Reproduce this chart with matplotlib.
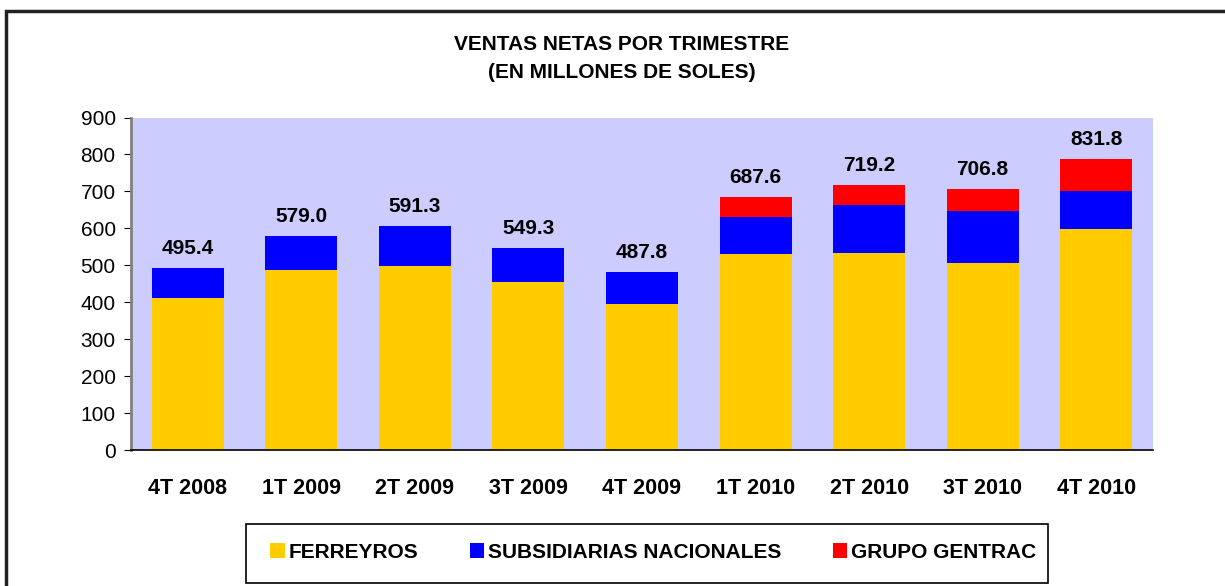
import numpy as np
import matplotlib
matplotlib.use("Agg")
import matplotlib.pyplot as plt
from matplotlib.patches import Rectangle

plt.rcParams['font.family'] = ['Liberation Sans', 'DejaVu Sans']

# quarters and stacked sales (millions of soles)
quarters = ['4T 2008', '1T 2009', '2T 2009', '3T 2009', '4T 2009',
            '1T 2010', '2T 2010', '3T 2010', '4T 2010']
ferreyros = [411, 487, 498, 455, 395, 531, 533, 506, 598]
subsidiarias = [82, 92, 108, 92, 87, 100, 130, 141, 103]
gentrac = [0, 0, 0, 0, 0, 55, 54, 60, 87]
total_labels = ['495.4', '579.0', '591.3', '549.3', '487.8',
                '687.6', '719.2', '706.8', '831.8']

c_fer = '#FFCC00'
c_sub = '#0000FF'
c_gen = '#FF0000'

fig = plt.figure(figsize=(12.25, 5.86), dpi=100)
ax = fig.add_axes([131 / 1225, 1 - 450 / 586, 1022 / 1225, 332.5 / 586])
ax.set_facecolor('#CCCCFF')

x = np.arange(len(quarters))
w = 0.634
fer = np.array(ferreyros)
sub = np.array(subsidiarias)
gen = np.array(gentrac)

ax.bar(x, fer, w, color=c_fer, label='FERREYROS')
ax.bar(x, sub, w, bottom=fer, color=c_sub, label='SUBSIDIARIAS NACIONALES')
ax.bar(x, gen, w, bottom=fer + sub, color=c_gen, label='GRUPO GENTRAC')

tops = fer + sub + gen
for xi, top, lab in zip(x, tops, total_labels):
    ax.annotate(lab, (xi, top), xytext=(0, 7), textcoords='offset points',
                ha='center', va='bottom', fontsize=15, fontweight='bold')

ax.set_xlim(-0.5, len(quarters) - 0.5)
ax.set_ylim(0, 900)
ax.set_yticks(np.arange(0, 901, 100))
ax.set_xticks(x)
ax.set_xticklabels(quarters, fontsize=15.5, fontweight='bold')
ax.tick_params(axis='x', length=0, pad=20)
ax.tick_params(axis='y', labelsize=15, length=5, direction='out', pad=6)

for s in ['top', 'right']:
    ax.spines[s].set_visible(False)
ax.spines['left'].set_color('#808080')
ax.spines['left'].set_linewidth(2)
ax.spines['bottom'].set_color('black')
ax.spines['bottom'].set_linewidth(1.2)

fig.text(622 / 1225, 1 - 44 / 586, 'VENTAS NETAS POR TRIMESTRE',
         ha='center', va='center', fontsize=15, fontweight='bold')
fig.text(622 / 1225, 1 - 72 / 586, '(EN MILLONES DE SOLES)',
         ha='center', va='center', fontsize=15, fontweight='bold')

# outer chart frame
fig.patches.append(Rectangle((6 / 1225, -0.1), 1.2, 1.1 - 11 / 586,
                             transform=fig.transFigure, fill=False,
                             edgecolor='#222222', linewidth=2.5))

# legend box
fig.patches.append(Rectangle((246 / 1225, 1 - 583 / 586), 802 / 1225, 59 / 586,
                             transform=fig.transFigure, fill=False,
                             edgecolor='black', linewidth=1.2))
leg = fig.legend(loc='center left', ncol=3,
                 bbox_to_anchor=(270 / 1225, 1 - 552 / 586),
                 frameon=False, handlelength=0.7, handleheight=0.7,
                 handletextpad=0.2, columnspacing=2.45,
                 borderaxespad=0, borderpad=0,
                 prop={'weight': 'bold', 'size': 15})

fig.savefig('out.png', dpi=100)
